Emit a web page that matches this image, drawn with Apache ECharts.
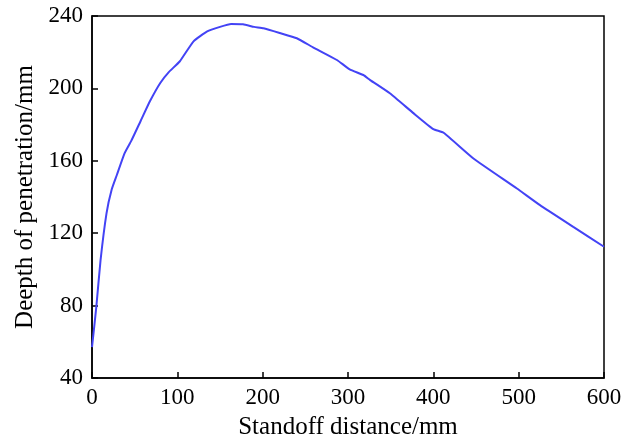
<!DOCTYPE html>
<html>
<head>
<meta charset="utf-8">
<script src="https://cdn.jsdelivr.net/npm/echarts@6/dist/echarts.min.js"></script>
<style>
  html, body { margin: 0; padding: 0; background: #fff; }
  #chart { width: 641px; height: 440px; }
</style>
</head>
<body>
<div id="chart"></div>
<script>
// standoff distance (mm) and depth of penetration (mm)
const standoff = [0, 5, 10, 17, 23, 29, 38, 46, 57, 68, 80, 90, 103, 119, 135, 150, 163, 177, 190, 201,
  220, 240, 259, 287, 302, 318, 326, 349, 377, 400, 412, 447, 498, 525, 564, 600];
const depth = [57, 79, 105, 131, 144, 152, 164, 171, 182, 193, 203, 209, 215, 226, 231.5, 234, 235.6, 235.4, 234, 233.2,
  230.6, 227.7, 222.7, 215.7, 210.5, 207.4, 204.6, 197.3, 186.2, 177.5, 175.5, 161.3, 144.7, 135.5, 123.5, 112.5];

const xTicks = [0, 100, 200, 300, 400, 500, 600];
const yTicks = [40, 80, 120, 160, 200, 240];

let points = standoff.map((x, i) => [x, depth[i]]);

const font = "Liberation Serif";
let chart = echarts.init(document.getElementById("chart"));

chart.setOption({
  animation: false,
  grid: {
    left: 92, right: 37, top: 16, bottom: 62,
    outerBoundsMode: "none", // keep the plot box where it is, text may touch the edge
    show: true, borderColor: "#000", borderWidth: 1.5
  },
  xAxis: {
    type: "value",
    min: xTicks[0], max: xTicks[xTicks.length - 1], interval: 100,
    name: "Standoff distance/mm",
    nameLocation: "middle",
    nameGap: 37,
    nameTextStyle: { fontFamily: font, fontSize: 25, color: "#000" },
    axisLine: { show: true, lineStyle: { color: "#000", width: 1.5 } },
    axisTick: { show: true, inside: true, length: 6, lineStyle: { color: "#000", width: 1.5 } },
    axisLabel: { fontFamily: font, fontSize: 23, color: "#000", margin: 8 },
    splitLine: { show: false }
  },
  yAxis: {
    type: "value",
    min: yTicks[0], max: yTicks[yTicks.length - 1], interval: 40,
    name: "Deepth of penetration/mm",
    nameLocation: "middle",
    nameGap: 53,
    nameTextStyle: { fontFamily: font, fontSize: 25, color: "#000" },
    axisLine: { show: true, lineStyle: { color: "#000", width: 1.5 } },
    axisTick: { show: true, inside: true, length: 6, lineStyle: { color: "#000", width: 1.5 } },
    axisLabel: { fontFamily: font, fontSize: 23, color: "#000", margin: 9 },
    splitLine: { show: false }
  },
  series: [{
    type: "line",
    data: points,
    showSymbol: false,
    smooth: 0.15,
    lineStyle: { color: "#4343f5", width: 2 }
  }]
});
</script>
</body>
</html>
